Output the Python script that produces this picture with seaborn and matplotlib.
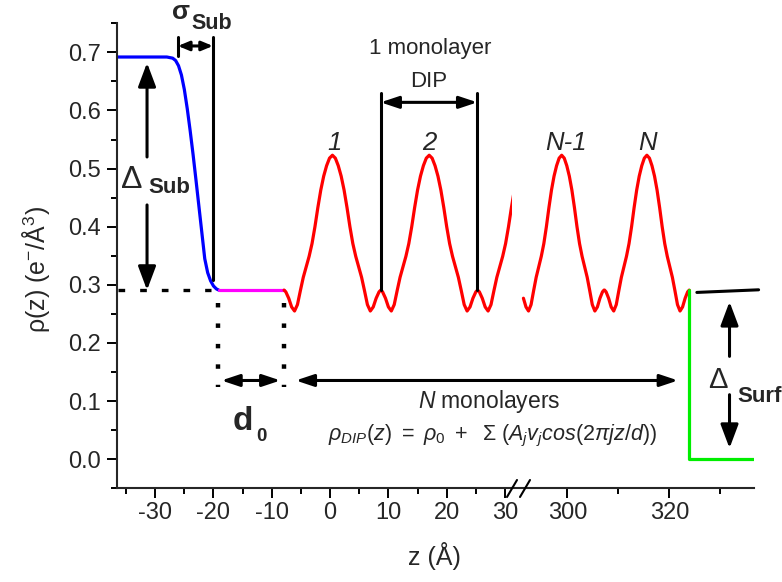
import numpy as np
import pandas as pd
import matplotlib
matplotlib.use("Agg")
import matplotlib.pyplot as plt
import seaborn as sns
from matplotlib.ticker import MultipleLocator, FixedLocator
from matplotlib.patches import ConnectionPatch
from matplotlib.lines import Line2D

# ---------------- data ----------------
# substrate (blue) error-function step
z_sub = [-36.5, -28.0, -27.0, -26.5, -26.0, -25.5, -25.0, -24.5, -24.0, -23.5,
         -23.0, -22.5, -22.0, -21.5, -21.0, -20.5, -20.0, -19.5, -19.1]
rho_sub = [0.692, 0.692, 0.690, 0.686, 0.677, 0.661, 0.636, 0.603, 0.565, 0.524,
           0.480, 0.435, 0.390, 0.345, 0.321, 0.307, 0.298, 0.293, 0.291]
# gap layer d0 (magenta)
z_gap = [-19.1, -7.9]
rho_gap = [0.291, 0.291]
# one DIP monolayer, read from peak centre (t=0) to half period
t_half = [0.0, 0.5, 1.0, 1.5, 2.0, 2.5, 3.0, 3.5, 4.0, 4.5, 5.0, 5.5, 6.0,
          6.5, 7.0, 7.5, 8.0, 8.3]
rho_half = [0.523, 0.518, 0.505, 0.487, 0.463, 0.433, 0.400, 0.371, 0.349,
            0.331, 0.313, 0.290, 0.266, 0.255, 0.262, 0.277, 0.288, 0.291]
layer_centers_left = [0.4, 17.0, 33.6]
layer_centers_right = [298.9, 315.6]
z_right_start = 291.4
# surface step (green)
z_surf = [323.9, 323.9, 340.0]
rho_surf = [0.291, 0.0, 0.0]

# annotation anchors (z positions)
sigma_edges = [-26.1, -20.1]
d0_edges = [-19.25, -7.92]
monolayer_edges = [8.66, 25.25]

left_ticks = [-30, -20, -10, 0, 10, 20, 30]
left_minor = [-35, -25, -15, -5, 5, 15, 25]
right_ticks = [300, 320]
right_minor = [310, 330]
y_ticks = [0.0, 0.1, 0.2, 0.3, 0.4, 0.5, 0.6, 0.7]

# ---------------- style ----------------
sns.set_style("ticks")
plt.rcParams.update({
    "font.family": ["Liberation Sans", "DejaVu Sans"],
    "mathtext.fontset": "custom",
    "mathtext.rm": "Liberation Sans",
    "mathtext.it": "Liberation Sans:italic",
    "mathtext.bf": "Liberation Sans:bold",
    "axes.unicode_minus": False,
})

W, H = 782, 582
fig = plt.figure(figsize=(W / 100, H / 100), dpi=100)
fig.patch.set_facecolor("white")

def fx(px):
    return px / W

def fy(py):
    return 1 - py / H

x0, xj, x1 = 117.3, 512.0, 754.0
ytop, ybot = 23.3, 488.3
ax1 = fig.add_axes([fx(x0), fy(ybot), (xj - x0) / W, (ybot - ytop) / H])
ax2 = fig.add_axes([fx(xj), fy(ybot), (x1 - xj) / W, (ybot - ytop) / H], sharey=ax1)
for ax in (ax1, ax2):
    ax.set_facecolor("white")
    ax.patch.set_alpha(0)

# ---------------- curves ----------------
t_layer = np.concatenate([-np.array(t_half[::-1]), np.array(t_half[1:])])
rho_layer = np.concatenate([np.array(rho_half[::-1]), np.array(rho_half[1:])])

def tile(centers):
    zs, rs = [], []
    for c in centers:
        zs.append(c + t_layer)
        rs.append(rho_layer)
    return np.concatenate(zs), np.concatenate(rs)

zl, rl = tile(layer_centers_left)
zr, rr = tile(layer_centers_right)
keep = zr >= z_right_start - 1e-9
zr, rr = zr[keep], rr[keep]

LW = 2.3
sns.lineplot(data=pd.DataFrame({"z": z_sub, "rho": rho_sub}), x="z", y="rho",
             ax=ax1, color="#0000ff", lw=LW, sort=False, estimator=None)
sns.lineplot(data=pd.DataFrame({"z": z_gap, "rho": rho_gap}), x="z", y="rho",
             ax=ax1, color="#ff00ff", lw=LW, sort=False, estimator=None)
sns.lineplot(data=pd.DataFrame({"z": zl, "rho": rl}), x="z", y="rho",
             ax=ax1, color="#ff0000", lw=LW, sort=False, estimator=None)
sns.lineplot(data=pd.DataFrame({"z": zr, "rho": rr}), x="z", y="rho",
             ax=ax2, color="#ff0000", lw=LW, sort=False, estimator=None)
sns.lineplot(data=pd.DataFrame({"z": z_surf, "rho": rho_surf}), x="z", y="rho",
             ax=ax2, color="#00ee00", lw=LW, sort=False, estimator=None)

# ---------------- axes ----------------
ax1.set_xlim(-36.5, 31.2)
ax2.set_xlim(289.16, 336.6)
ax1.set_ylim(-0.05, 0.75)
for ax in (ax1, ax2):
    ax.set_xlabel("")
    ax.set_ylabel("")
    for s in ("top", "right"):
        ax.spines[s].set_visible(False)
    for s in ("left", "bottom"):
        ax.spines[s].set_linewidth(1.5)
    ax.tick_params(axis="both", which="major", direction="out", length=7,
                   width=1.4, labelsize=17, pad=3, color="black")
    ax.tick_params(axis="both", which="minor", direction="out", length=4.3,
                   width=1.4, color="black")
ax2.spines["left"].set_visible(False)
ax2.tick_params(axis="y", which="both", left=False, labelleft=False)
ax1.tick_params(axis="y", which="major", pad=5)

ax1.xaxis.set_major_locator(FixedLocator(left_ticks))
ax1.xaxis.set_minor_locator(FixedLocator(left_minor))
ax1.set_xticklabels([str(t) for t in left_ticks])
ax2.xaxis.set_major_locator(FixedLocator(right_ticks))
ax2.xaxis.set_minor_locator(FixedLocator(right_minor))
ax2.set_xticklabels([str(t) for t in right_ticks])
ax1.yaxis.set_major_locator(FixedLocator(y_ticks))
ax1.yaxis.set_minor_locator(MultipleLocator(0.05))
ax1.set_yticklabels([f"{v:.1f}" for v in y_ticks])

# axis break marks
for cx in (512, 525):
    fig.add_artist(Line2D([fx(cx - 5), fx(cx + 5)], [fy(497), fy(480)],
                          color="black", lw=1.5))

fig.text(fx(434), fy(565), "z (Å)", fontsize=18, ha="center", va="baseline")
fig.text(fx(36), fy(270), "ρ(z) (e$^{\\mathregular{-}}$/Å$^{\\mathregular{3}}$)",
         fontsize=18, rotation=90, ha="center", va="center")

# ---------------- annotations ----------------
K = "black"
ALW = 2.2

def arrow(ax, tail, tip, style="-|>", hl=0.6, hw=0.2, ms=18):
    ax.annotate("", xy=tip, xytext=tail, annotation_clip=False,
                arrowprops=dict(arrowstyle=f"{style},head_length={hl},head_width={hw}",
                                color=K, lw=ALW, mutation_scale=ms,
                                shrinkA=0, shrinkB=0))

# sigma_sub
ax1.plot([sigma_edges[1]] * 2, [0.309, 0.727], color=K, lw=ALW, clip_on=False)
ax1.plot([sigma_edges[0]] * 2, [0.693, 0.727], color=K, lw=ALW, clip_on=False)
arrow(ax1, (sigma_edges[0], 0.711), (sigma_edges[1], 0.711), style="<|-|>",
      hl=0.6, hw=0.25, ms=11)
fig.text(fx(181), fy(19), "σ", fontsize=19, fontweight="bold", ha="center", va="baseline")
fig.text(fx(191), fy(29), "Sub", fontsize=15.5, fontweight="bold", ha="left", va="baseline")

# delta_sub
ax1.plot([-36.3, -20.4], [0.291, 0.291], color=K, lw=2.4,
         linestyle=(0, (2, 4.5)), dash_capstyle="butt")
arrow(ax1, (-31.4, 0.52), (-31.4, 0.682), hl=0.8, hw=0.3)
arrow(ax1, (-31.4, 0.4375), (-31.4, 0.291), hl=0.8, hw=0.3)
fig.text(fx(121), fy(188), "Δ", fontsize=23, ha="left", va="baseline")
fig.text(fx(148), fy(193), "Sub", fontsize=16, fontweight="bold", ha="left", va="baseline")

# d0
for zz in d0_edges:
    ax1.plot([zz, zz], [0.269, 0.125], color=K, lw=3.2,
             linestyle=(0, (1, 3.6)), dash_capstyle="butt")
arrow(ax1, (d0_edges[0] + 0.6, 0.1355), (d0_edges[1] - 0.6, 0.1355), style="<|-|>")
fig.text(fx(233), fy(430), "d", fontsize=24, fontweight="bold", ha="left", va="baseline")
fig.text(fx(256), fy(441), "0", fontsize=13.5, fontweight="bold", ha="left", va="baseline")

# N monolayers arrow across the break
cp = ConnectionPatch(xyA=(-5.9, 0.1355), coordsA=ax1.transData,
                     xyB=(321.7, 0.1355), coordsB=ax2.transData,
                     arrowstyle="<|-|>,head_length=0.6,head_width=0.2",
                     mutation_scale=18, color=K, lw=ALW, shrinkA=0, shrinkB=0)
fig.add_artist(cp)
fig.text(fx(418), fy(408), r"$\mathit{N}$ monolayers", fontsize=16.5, ha="left", va="baseline")
fig.text(fx(328), fy(440),
         r"$\rho_{DIP}(z)\ =\ \rho_0\ +\ \ \Sigma\ (A_jv_jcos(2\pi jz/d))$",
         fontsize=15.5, ha="left", va="baseline")

# one monolayer
for zz in monolayer_edges:
    ax1.plot([zz, zz], [0.291, 0.63], color=K, lw=ALW)
arrow(ax1, (monolayer_edges[0], 0.614), (monolayer_edges[1], 0.614), style="<|-|>")
fig.text(fx(430), fy(54), "1 monolayer", fontsize=16, ha="center", va="baseline")
fig.text(fx(429), fy(87), "DIP", fontsize=16, ha="center", va="baseline")

# layer labels
for px, lab in [(335, "1"), (429.5, "2"), (566, "N-1"), (648, "N")]:
    fig.text(fx(px), fy(150), lab, fontsize=18.5, style="italic", ha="center", va="baseline")

# surface
ax2.plot([325.4, 337.5], [0.287, 0.2915], color=K, lw=ALW, clip_on=False)
arrow(ax2, (331.8, 0.177), (331.8, 0.271), hl=0.8, hw=0.3)
arrow(ax2, (331.8, 0.111), (331.8, 0.019), hl=0.8, hw=0.3)
fig.text(fx(708), fy(388), "Δ", fontsize=21, ha="left", va="baseline")
fig.text(fx(737), fy(402), "Surf", fontsize=16, fontweight="bold", ha="left", va="baseline")

fig.savefig("out.png", dpi=100, facecolor="white")
